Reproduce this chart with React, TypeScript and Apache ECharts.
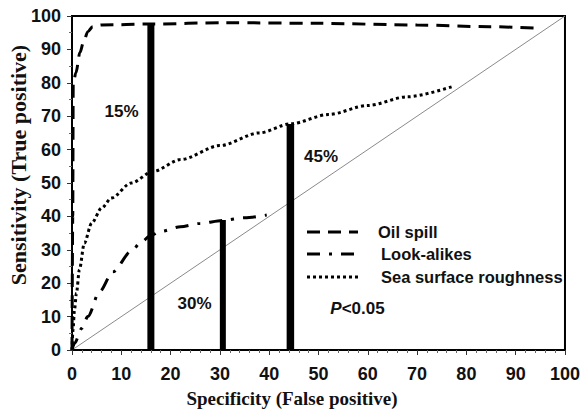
import React, { useEffect, useRef } from "react";
import * as echarts from "echarts";

// ---- data ----
const seriesNames = ["Oil spill", "Look-alikes", "Sea surface roughness"];

const oilX = [0, 0.15, 0.25, 0.8, 1.6, 2.3, 3.2, 4.2, 6, 16, 31, 50, 70, 84.7, 95.2];
const oilY = [0, 40, 80, 83, 89, 92, 95.3, 96.8, 97.3, 97.6, 98, 97.8, 97.3, 96.8, 96.3];

const lookX = [0, 0.5, 2, 3.2, 5.6, 8.3, 12, 14, 16, 18, 22, 26, 30.6, 35, 39.5];
const lookY = [0, 2, 6.5, 10, 17.5, 23.4, 29.5, 32.3, 34.3, 35.5, 36.9, 37.9, 38.8, 39.6, 40.4];

const seaX = [0, 0.2, 0.5, 0.9, 1.5, 2.5, 4, 6, 8, 12, 16.5, 22, 30, 38, 44.3, 52, 60, 68, 77];
const seaY = [0, 6, 12, 17, 24, 32, 38, 42.5, 45.5, 50, 53.5, 57, 61.2, 65, 67.7, 70.5, 73.2, 75.8, 78.8];

const diagX = [0, 100];
const diagY = [0, 100];

const barX = [16, 30.6, 44.3];
const barTop = [97.7, 38.9, 67.7];
const barLabels = ["15%", "30%", "45%"];
const pItalic = "P";
const pRest = "<0.05";

export default function App() {
  const ref = useRef<HTMLDivElement>(null);
  useEffect(() => {
    document.body.style.margin = "0";
    if (!ref.current) return;
    const chart = echarts.init(ref.current, null, { renderer: "svg" });
    const pairs = (xs: number[], ys: number[]) => xs.map((x, i) => [x, ys[i]]);
    const tickFont = { fontFamily: '"Liberation Sans", Arial', fontWeight: "bold" as const, fontSize: 18, color: "#111" };

    const barWidths = [7, 6, 7.5];
    const labelPos = [
      [121.5, 111],
      [194.5, 303],
      [321, 156],
    ];
    const dashes: any[] = [[13, 8], [13, 9, 3, 9], [3, 3]];
    const legendY = [232, 254, 277];
    const legendTextX = [378, 381, 381];
    const legendFont = 'bold 16.5px "Liberation Sans", Arial';

    const option: any = {
      animation: false,
      backgroundColor: "#fff",
      grid: { left: 72, top: 16, right: 14, bottom: 59, show: true, borderColor: "#000", borderWidth: 2 },
      xAxis: {
        type: "value",
        min: 0,
        max: 100,
        interval: 10,
        axisLine: { show: true, lineStyle: { color: "#000", width: 2 } },
        axisTick: { show: true, length: 5, lineStyle: { color: "#333" } },
        minorTick: { show: true, splitNumber: 5, length: 3, lineStyle: { color: "#666" } },
        splitLine: { show: false },
        axisLabel: { ...tickFont, margin: 15 },
      },
      yAxis: {
        type: "value",
        min: 0,
        max: 100,
        interval: 10,
        axisLine: { show: true, lineStyle: { color: "#000", width: 2 } },
        axisTick: { show: true, length: 5, lineStyle: { color: "#333" } },
        minorTick: { show: true, splitNumber: 2, length: 3, lineStyle: { color: "#666" } },
        splitLine: { show: false },
        axisLabel: { ...tickFont, margin: 11 },
      },
      series: [
        {
          type: "line",
          data: pairs(diagX, diagY),
          symbol: "none",
          lineStyle: { color: "#8a8a8a", width: 1 },
          silent: true,
          z: 1,
        },
        ...[pairs(oilX, oilY), pairs(lookX, lookY), pairs(seaX, seaY)].map((d, i) => ({
          name: seriesNames[i],
          type: "line",
          data: d,
          symbol: "none",
          smooth: 0.3,
          smoothMonotone: "x",
          lineStyle: { color: "#000", width: 3, type: dashes[i] },
          itemStyle: { color: "#000" },
          z: 2,
        })),
        ...barX.map((x, i) => ({
          type: "line",
          data: [
            [x, 0],
            [x, barTop[i]],
          ],
          symbol: "none",
          lineStyle: { color: "#000", width: barWidths[i], cap: "butt" },
          silent: true,
          z: 3,
        })),
      ],
      graphic: [
        ...seriesNames.map((n, i) => ({
          type: "line",
          shape: { x1: 307, y1: legendY[i], x2: 358, y2: legendY[i] },
          style: { stroke: "#000", lineWidth: 3, lineDash: dashes[i] },
        })),
        ...seriesNames.map((n, i) => ({
          type: "text",
          x: legendTextX[i],
          y: legendY[i],
          style: {
            text: n,
            font: legendFont,
            fill: "#111",
            textAlign: "left",
            textVerticalAlign: "middle",
            align: "left",
            verticalAlign: "middle",
          },
        })),
        ...barLabels.map((t, i) => ({
          type: "text",
          x: labelPos[i][0],
          y: labelPos[i][1],
          style: {
            text: t,
            font: 'bold 17px "Liberation Sans", Arial',
            fill: "#111",
            textAlign: "center",
            textVerticalAlign: "middle",
            align: "center",
            verticalAlign: "middle",
          },
        })),
        {
          type: "text",
          x: 357.5,
          y: 308,
          style: {
            text: "{i|" + pItalic + "}{n|" + pRest + "}",
            rich: {
              i: { fontFamily: '"Liberation Sans", Arial', fontWeight: "bold", fontStyle: "italic", fontSize: 17, fill: "#111" },
              n: { fontFamily: '"Liberation Sans", Arial', fontWeight: "bold", fontSize: 17, fill: "#111" },
            },
            textAlign: "center",
            textVerticalAlign: "middle",
            align: "center",
            verticalAlign: "middle",
          },
        },
        {
          type: "text",
          x: 292,
          y: 398,
          style: {
            text: "Specificity (False positive)",
            font: 'bold 19px "Liberation Serif", "Times New Roman", serif',
            fill: "#111",
            textAlign: "center",
            textVerticalAlign: "middle",
            align: "center",
            verticalAlign: "middle",
          },
        },
        {
          type: "text",
          x: 18,
          y: 165,
          rotation: Math.PI / 2,
          style: {
            text: "Sensitivity (True positive)",
            font: 'bold 22px "Liberation Serif", "Times New Roman", serif',
            fill: "#111",
            textAlign: "center",
            textVerticalAlign: "middle",
            align: "center",
            verticalAlign: "middle",
          },
        },
      ],
    };
    chart.setOption(option);
    return () => chart.dispose();
  }, []);
  return <div ref={ref} style={{ width: 583, height: 409 }} />;
}
